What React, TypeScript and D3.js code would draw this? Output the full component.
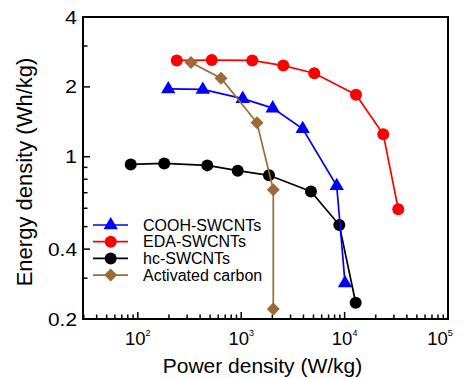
import React from "react"
import * as d3 from "d3"

// power density (W/kg) / energy density (Wh/kg)
const coohPower = [197, 425, 1034, 2017, 3933, 8390, 10090]
const coohEnergy = [1.96, 1.95, 1.78, 1.62, 1.32, 0.75, 0.286]

const edaPower = [238, 519, 1280, 2553, 5093, 12890, 23660, 33050]
const edaEnergy = [2.6, 2.61, 2.6, 2.47, 2.29, 1.85, 1.25, 0.594]

const hcPower = [85.4, 180, 470, 925, 1857, 4730, 8890, 12800]
const hcEnergy = [0.927, 0.936, 0.918, 0.871, 0.832, 0.708, 0.508, 0.235]

const acPower = [327, 638, 1421, 2043, 2043]
const acEnergy = [2.55, 2.18, 1.4, 0.72, 0.221]

const yMajor = [0.2, 0.4, 1, 2, 4]
const yMinor = [0.3, 0.5, 0.6, 0.7, 0.8, 0.9, 3]
const xMajorExp = [2, 3, 4, 5]

const W = 464
const H = 378
const PLOT = { left: 83, right: 448, top: 17, bottom: 319 }

const BROWN = "#9c6a38"

type Shape = "triangle" | "circle" | "diamond"

const series = [
  { name: "COOH-SWCNTs", color: "#0000ff", shape: "triangle" as Shape, power: coohPower, energy: coohEnergy },
  { name: "EDA-SWCNTs", color: "#ff0000", shape: "circle" as Shape, power: edaPower, energy: edaEnergy },
  { name: "hc-SWCNTs", color: "#000000", shape: "circle" as Shape, power: hcPower, energy: hcEnergy },
  { name: "Activated carbon", color: BROWN, shape: "diamond" as Shape, power: acPower, energy: acEnergy },
]

// drawing order: red, black, blue, brown
const drawOrder = [1, 2, 0, 3]

function Marker({ shape, x, y, color }: { shape: Shape; x: number; y: number; color: string }) {
  if (shape === "circle") return <circle cx={x} cy={y} r={6} fill={color} />
  if (shape === "triangle")
    return <path d={`M${x},${y - 8}L${x + 7.2},${y + 4.3}L${x - 7.2},${y + 4.3}Z`} fill={color} />
  return <path d={`M${x},${y - 6.5}L${x + 6.5},${y}L${x},${y + 6.5}L${x - 6.5},${y}Z`} fill={color} />
}

export default function App() {
  const x = d3.scaleLog().domain([29.5, 1e5]).range([PLOT.left, PLOT.right])
  const y = d3.scaleLog().domain([0.2, 4]).range([PLOT.bottom, PLOT.top])

  const xMinor: number[] = []
  for (const base of [10, 100, 1000, 10000]) {
    for (let m = 2; m <= 9; m++) {
      const v = base * m
      if (v >= 29.5 && v < 1e5) xMinor.push(v)
    }
  }

  const line = d3
    .line<[number, number]>()
    .x((d) => x(d[0]))
    .y((d) => y(d[1]))

  const font = "Arial, 'Liberation Sans', sans-serif"

  return (
    <svg
      width={W}
      height={H}
      style={{ position: "absolute", left: 0, top: 0, background: "#fff" }}
      fontFamily={font}
    >
      {/* frame */}
      <rect
        x={PLOT.left}
        y={PLOT.top}
        width={PLOT.right - PLOT.left}
        height={PLOT.bottom - PLOT.top}
        fill="none"
        stroke="#000"
        strokeWidth={2}
      />

      {/* y ticks */}
      {yMajor.map((v) => (
        <g key={"ym" + v}>
          <line x1={PLOT.left} x2={PLOT.left + 7} y1={y(v)} y2={y(v)} stroke="#000" strokeWidth={1.5} />
          <text
            x={77}
            y={y(v) + 6.5}
            textAnchor="end"
            fontSize={18}
            textLength={v < 1 ? 29 : 12}
            lengthAdjust="spacingAndGlyphs"
          >
            {String(v)}
          </text>
        </g>
      ))}
      {yMinor.map((v) => (
        <line key={"yn" + v} x1={PLOT.left} x2={PLOT.left + 4.5} y1={y(v)} y2={y(v)} stroke="#000" strokeWidth={1.5} />
      ))}

      {/* x ticks */}
      {xMajorExp.map((e) => (
        <g key={"xm" + e}>
          <line x1={x(10 ** e)} x2={x(10 ** e)} y1={PLOT.bottom} y2={PLOT.bottom - 7} stroke="#000" strokeWidth={1.5} />
          <text x={Math.min(x(10 ** e), 440)} y={345} textAnchor="middle" fontSize={18.5}>
            10
            <tspan dy={-9} fontSize={9}>
              {e}
            </tspan>
          </text>
        </g>
      ))}
      {xMinor.map((v) => (
        <line key={"xn" + v} x1={x(v)} x2={x(v)} y1={PLOT.bottom} y2={PLOT.bottom - 4.5} stroke="#000" strokeWidth={1.5} />
      ))}

      {/* axis titles */}
      <text x={(PLOT.left + PLOT.right) / 2 - 3} y={373} textAnchor="middle" fontSize={21}>
        Power density (W/kg)
      </text>
      <text transform="translate(32,172) rotate(-90)" textAnchor="middle" fontSize={22}>
        Energy density (Wh/kg)
      </text>

      {/* series */}
      {drawOrder.map((i) => {
        const s = series[i]
        const pts = s.power.map((p, k) => [p, s.energy[k]] as [number, number])
        return (
          <g key={s.name}>
            <path d={line(pts) ?? ""} fill="none" stroke={s.color} strokeWidth={1.7} />
            {pts.map((d, k) => (
              <Marker key={k} shape={s.shape} x={x(d[0])} y={y(d[1])} color={s.color} />
            ))}
          </g>
        )
      })}

      {/* legend */}
      {series.map((s, i) => {
        const ly = 225 + i * 16.7
        return (
          <g key={"lg" + s.name}>
            <line x1={93} x2={128} y1={ly} y2={ly} stroke={s.color} strokeWidth={1.7} />
            <Marker shape={s.shape} x={110.7} y={ly} color={s.color} />
            <text x={143} y={ly + 5.5} fontSize={16}>
              {s.name}
            </text>
          </g>
        )
      })}
    </svg>
  )
}
